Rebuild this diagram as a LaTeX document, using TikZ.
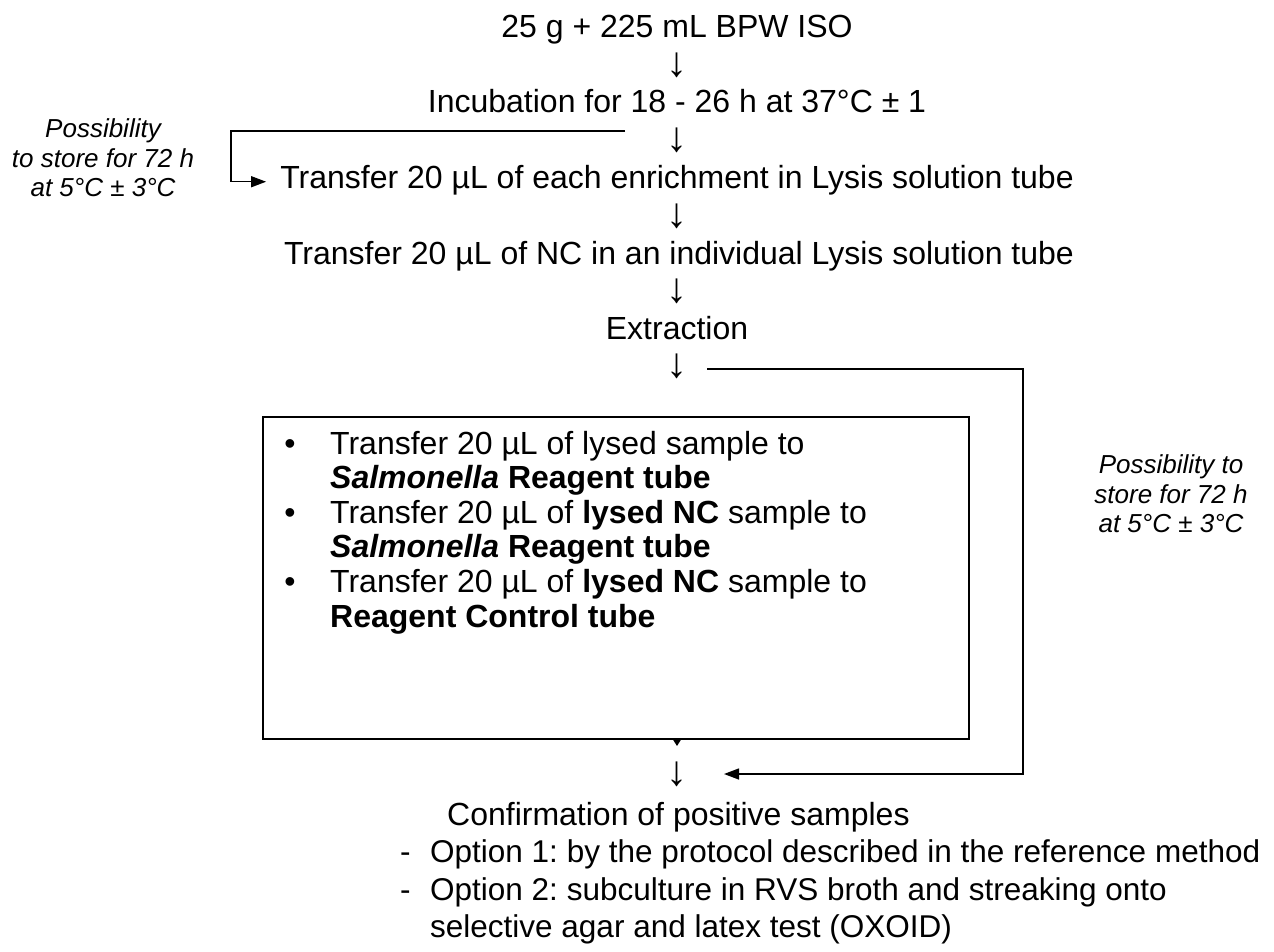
\documentclass[tikz,border=0pt]{standalone}
\usepackage{fontspec}
\setmainfont{Liberation Sans}
\usetikzlibrary{arrows.meta}
\begin{document}
\frenchspacing
\begin{tikzpicture}[x=1pt,y=-1pt,
  main/.style={font=\fontsize{32}{38}\selectfont\frenchspacing, inner sep=0pt, anchor=base},
  darrow/.style={font=\fontsize{42}{46}\selectfont, inner sep=0pt, anchor=base},
  lefttext/.style={font=\fontsize{32}{38}\selectfont\frenchspacing, inner sep=0pt, anchor=base west},
  opttext/.style={font=\fontsize{31.5}{38}\selectfont\frenchspacing, inner sep=0pt, anchor=base west},
  note/.style={font=\fontsize{26}{29.5}\selectfont\itshape, inner sep=0pt, align=center},
  conn/.style={line width=1.4pt},
  tip/.style={-{Triangle[width=11pt,length=15pt]}},
  framebox/.style={draw, line width=1.6pt, fill=white, inner sep=0pt, anchor=north west, minimum width=706pt, minimum height=322pt},
]
\useasboundingbox (0,0) rectangle (1274,952);

% main column
\node[main] (l0) at (677,38) {25 g + 225 mL BPW ISO};
\node[darrow] (a1) at (677,77) {↓};
\node[main] (l2) at (677,113) {Incubation for 18 - 26 h at 37°C ± 1};
\node[darrow] (a3) at (677,152) {↓};
\node[main] (l4) at (677,189) {Transfer 20 µL of each enrichment in Lysis solution tube};
\node[darrow] (a5) at (677,227) {↓};
\node[main] (l6) at (679,264) {Transfer 20 µL of NC in an individual Lysis solution tube};
\node[darrow] (a7) at (677,302) {↓};
\node[main] (l8) at (677,339) {Extraction};
\node[darrow] (a9) at (677,377) {↓};

% notes
\node[note] (n1) at (103,158) {Possibility\\to store for 72 h\\at 5°C ± 3°C};
\node[note] (n2) at (1171,494) {Possibility to\\store for 72 h\\at 5°C ± 3°C};

% left connector
\coordinate (ls) at (625,131);
\coordinate (lc) at (231,131);
\draw[conn,tip] (ls) -- (lc) |- ([xshift=-14pt,yshift=-1pt]l4.west);

% hidden arrow below box
\draw[conn,-{Triangle[width=11pt,length=9pt]}] (677,720) -- (677,746);

% box
\node[framebox] (box) at (262,416) {};
\node[main] (b1) at (290,454) {•};
\node[lefttext] (t1) at (330,454) {Transfer 20 µL of lysed sample to};
\node[lefttext] (t2) at (330,488) {\textbf{\textit{Salmonella}} \textbf{Reagent tube}};
\node[main] (b2) at (290,523) {•};
\node[lefttext] (t3) at (330,523) {Transfer 20 µL of \textbf{lysed NC} sample to};
\node[lefttext] (t4) at (330,557) {\textbf{\textit{Salmonella}} \textbf{Reagent tube}};
\node[main] (b3) at (290,592) {•};
\node[lefttext] (t5) at (330,592) {Transfer 20 µL of \textbf{lysed NC} sample to};
\node[lefttext] (t6) at (330,627) {\textbf{Reagent Control tube}};

% bottom
\node[darrow] (a10) at (677,785) {↓};
\coordinate (rs) at (707,369);
\coordinate (re) at (724,774);
\draw[conn,tip] (rs) -- (1023,369) |- (re);

\node[lefttext] (c0) at (447,825) {Confirmation of positive samples};
\node[opttext] (d1) at (400,862) {-};
\node[opttext] (o1) at (430,862) {Option 1: by the protocol described in the reference method};
\node[opttext] (d2) at (400,900) {-};
\node[opttext] (o2) at (430,900) {Option 2: subculture in RVS broth and streaking onto};
\node[opttext] (o3) at (430,937) {selective agar and latex test (OXOID)};
\end{tikzpicture}
\end{document}
